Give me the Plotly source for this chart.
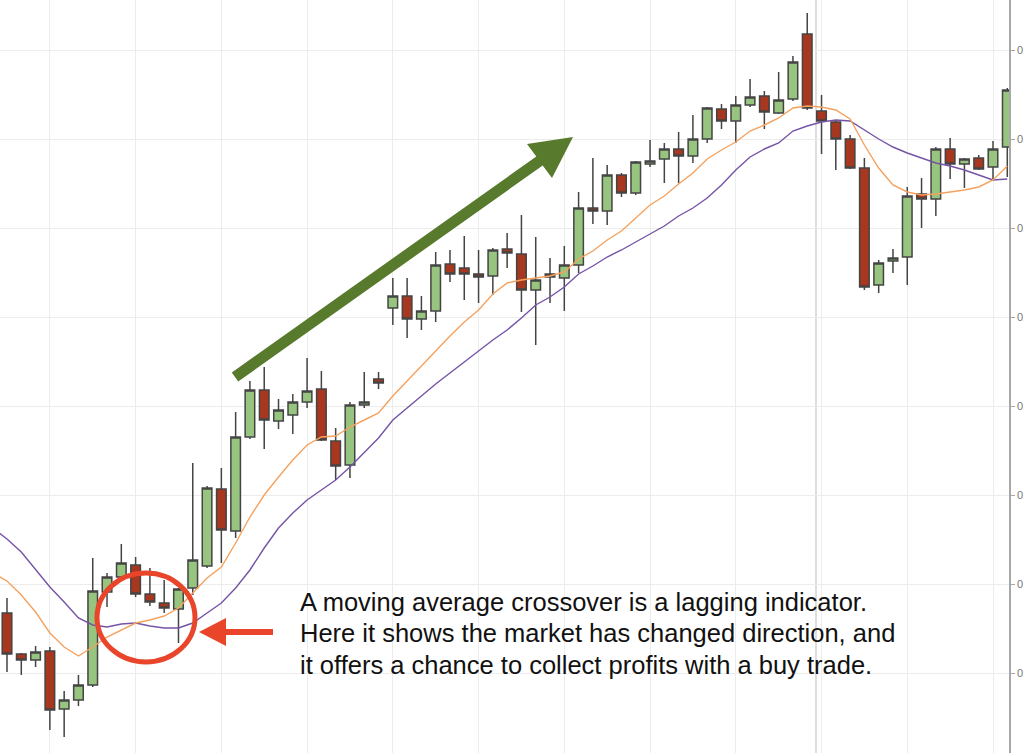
import plotly.graph_objects as go

# candle index (one per session)
idx = list(range(71))

opens = [
    0.7387, 0.7346, 0.7340, 0.7349, 0.7291, 0.7300, 0.7315, 0.7408, 0.7423, 0.7435,
    0.7406, 0.7397, 0.7391, 0.7412, 0.7434, 0.7511, 0.7469, 0.7563, 0.7610, 0.7579,
    0.7585, 0.7598, 0.7611, 0.7559, 0.7535, 0.7595, 0.7621, 0.7692, 0.7704, 0.7681,
    0.7689, 0.7736, 0.7732, 0.7726, 0.7724, 0.7751, 0.7746, 0.7710, 0.7726, 0.7722,
    0.7735, 0.7792, 0.7789, 0.7825, 0.7807, 0.7836, 0.7841, 0.7851, 0.7844, 0.7861,
    0.7891, 0.7879, 0.7895, 0.7904, 0.7887, 0.7901, 0.7966, 0.7889, 0.7878, 0.7861,
    0.7832, 0.7715, 0.7739, 0.7743, 0.7806, 0.7801, 0.7851, 0.7836, 0.7842, 0.7833,
    0.7853,
]
highs = [
    0.7402, 0.7347, 0.7354, 0.7353, 0.7309, 0.7325, 0.7442, 0.7427, 0.7456, 0.7443,
    0.7432, 0.7420, 0.7412, 0.7537, 0.7514, 0.7532, 0.7588, 0.7619, 0.7633, 0.7601,
    0.7606, 0.7642, 0.7629, 0.7572, 0.7598, 0.7628, 0.7628, 0.7722, 0.7722, 0.7704,
    0.7748, 0.7750, 0.7764, 0.7750, 0.7752, 0.7767, 0.7785, 0.7763, 0.7742, 0.7754,
    0.7808, 0.7842, 0.7835, 0.7827, 0.7839, 0.7860, 0.7857, 0.7868, 0.7885, 0.7893,
    0.7896, 0.7904, 0.7921, 0.7909, 0.7928, 0.7944, 0.7987, 0.7905, 0.7879, 0.7865,
    0.7842, 0.7740, 0.7751, 0.7813, 0.7822, 0.7853, 0.7862, 0.7842, 0.7845, 0.7859,
    0.7912,
]
lows = [
    0.7328, 0.7325, 0.7333, 0.7270, 0.7263, 0.7294, 0.7313, 0.7393, 0.7420, 0.7403,
    0.7394, 0.7387, 0.7357, 0.7405, 0.7432, 0.7437, 0.7462, 0.7561, 0.7551, 0.7571,
    0.7566, 0.7592, 0.7559, 0.7520, 0.7522, 0.7592, 0.7611, 0.7675, 0.7662, 0.7670,
    0.7678, 0.7718, 0.7700, 0.7697, 0.7705, 0.7732, 0.7688, 0.7655, 0.7697, 0.7689,
    0.7727, 0.7776, 0.7775, 0.7803, 0.7805, 0.7833, 0.7817, 0.7817, 0.7837, 0.7857,
    0.7871, 0.7857, 0.7893, 0.7871, 0.7886, 0.7899, 0.7890, 0.7846, 0.7830, 0.7831,
    0.7710, 0.7707, 0.7727, 0.7715, 0.7772, 0.7784, 0.7821, 0.7812, 0.7830, 0.7821,
    0.7823,
]
closes = [
    0.7346, 0.7340, 0.7348, 0.7290, 0.7300, 0.7315, 0.7409, 0.7423, 0.7437, 0.7406,
    0.7398, 0.7392, 0.7411, 0.7440, 0.7512, 0.7470, 0.7563, 0.7610, 0.7580, 0.7590,
    0.7598, 0.7609, 0.7560, 0.7534, 0.7595, 0.7598, 0.7617, 0.7704, 0.7681, 0.7689,
    0.7735, 0.7726, 0.7726, 0.7723, 0.7750, 0.7747, 0.7710, 0.7720, 0.7723, 0.7735,
    0.7792, 0.7789, 0.7825, 0.7807, 0.7838, 0.7839, 0.7851, 0.7844, 0.7861, 0.7892,
    0.7879, 0.7895, 0.7903, 0.7888, 0.7900, 0.7938, 0.7892, 0.7879, 0.7861, 0.7832,
    0.7713, 0.7737, 0.7742, 0.7804, 0.7801, 0.7851, 0.7836, 0.7841, 0.7831, 0.7851,
    0.7910,
]

# moving averages start one session before the first visible candle
ma_idx = list(range(-1, 71))
ma_fast = [
    0.7427, 0.7419, 0.7405, 0.7388, 0.7367, 0.7353, 0.7344, 0.7353, 0.7363, 0.7370,
    0.7377, 0.7380, 0.7384, 0.7392, 0.7407, 0.7422, 0.7433, 0.7457, 0.7483, 0.7505,
    0.7523, 0.7540, 0.7555, 0.7563, 0.7564, 0.7573, 0.7580, 0.7587, 0.7604, 0.7619,
    0.7634, 0.7650, 0.7664, 0.7678, 0.7690, 0.7706, 0.7717, 0.7720, 0.7722, 0.7724,
    0.7728, 0.7741, 0.7749, 0.7760, 0.7769, 0.7782, 0.7795, 0.7804, 0.7816, 0.7827,
    0.7841, 0.7850, 0.7858, 0.7869, 0.7875, 0.7882, 0.7892, 0.7894, 0.7893, 0.7890,
    0.7881, 0.7855, 0.7832, 0.7815, 0.7808, 0.7805, 0.7806, 0.7808, 0.7810, 0.7813,
    0.7820, 0.7834,
]
ma_slow = [
    0.7472, 0.7461, 0.7448, 0.7431, 0.7413, 0.7398, 0.7382, 0.7375, 0.7373, 0.7376,
    0.7377, 0.7374, 0.7372, 0.7372, 0.7377, 0.7387, 0.7397, 0.7412, 0.7430, 0.7452,
    0.7472, 0.7487, 0.7500, 0.7510, 0.7520, 0.7533, 0.7548, 0.7562, 0.7580, 0.7592,
    0.7604, 0.7616, 0.7627, 0.7638, 0.7649, 0.7660, 0.7670, 0.7682, 0.7695, 0.7703,
    0.7713, 0.7726, 0.7734, 0.7743, 0.7750, 0.7758, 0.7766, 0.7774, 0.7784, 0.7792,
    0.7802, 0.7815, 0.7830, 0.7843, 0.7851, 0.7857, 0.7869, 0.7874, 0.7878, 0.7880,
    0.7879, 0.7870, 0.7861, 0.7853, 0.7847, 0.7842, 0.7837, 0.7834, 0.7830, 0.7825,
    0.7820, 0.7821,
]

note_lines = [
    "A moving average crossover is a lagging indicator.",
    "Here it shows the market has changed direction, and",
    "it offers a chance to collect profits with a buy trade.",
]

W, H = 1024, 753
M_R = 15
PLOT_W = W - M_R
PLOT_H = H


def paper(px, py):
    # pixel position in the picture -> paper coordinates
    return px / PLOT_W, 1 - py / PLOT_H


def poly(points):
    pts = [paper(x, y) for x, y in points]
    return "M " + " L ".join(f"{x:.5f},{y:.5f}" for x, y in pts) + " Z"


fig = go.Figure()

fig.add_trace(
    go.Scatter(
        x=ma_idx, y=ma_slow, mode="lines",
        line=dict(color="#7553a6", width=1.4), hoverinfo="skip",
    )
)
fig.add_trace(
    go.Scatter(
        x=ma_idx, y=ma_fast, mode="lines",
        line=dict(color="#f5a25f", width=1.4), hoverinfo="skip",
    )
)
fig.add_trace(
    go.Candlestick(
        x=idx, open=opens, high=highs, low=lows, close=closes,
        increasing=dict(fillcolor="#97c47f", line=dict(color="#444444", width=1.5)),
        decreasing=dict(fillcolor="#a8371f", line=dict(color="#444444", width=1.5)),
        hoverinfo="skip",
    )
)

shapes = []
# crosshair line
cx, _ = paper(816, 0)
shapes.append(dict(type="line", xref="paper", yref="paper", x0=cx, x1=cx, y0=0, y1=1,
                   line=dict(color="#c8c8c8", width=1.2), layer="below"))
# red circle around the crossover
x0, y0 = paper(97, 662)
x1, y1 = paper(195, 573)
shapes.append(dict(type="circle", xref="paper", yref="paper", x0=x0, y0=y0, x1=x1, y1=y1,
                   line=dict(color="#e8452b", width=5)))
# red arrow pointing at the circle
shapes.append(dict(type="path", xref="paper", yref="paper", fillcolor="#e8452b",
                   line=dict(width=0),
                   path=poly([(273, 629), (226, 629), (226, 618), (199, 632),
                              (226, 646), (226, 635), (273, 635)])))
# green trend arrow
shapes.append(dict(type="path", xref="paper", yref="paper", fillcolor="#587a2d",
                   line=dict(width=0),
                   path=poly([(231.8, 372.5), (536.3, 156.5), (527, 144), (573, 137),
                              (552, 178), (542.7, 165.5), (238.2, 381.5)])))

annotations = []
for text, yc in zip(note_lines, [601.5, 633, 664.5]):
    ax, ay = paper(298, yc)
    annotations.append(dict(
        text=text, xref="paper", yref="paper", x=ax, y=ay,
        xanchor="left", yanchor="middle", showarrow=False,
        font=dict(family="Liberation Sans, Arial, sans-serif", size=25.5, color="#111111"),
    ))

fig.update_layout(
    width=W,
    height=H,
    margin=dict(l=0, r=M_R, t=0, b=0),
    paper_bgcolor="white",
    plot_bgcolor="white",
    showlegend=False,
    hovermode=False,
    boxgap=0.33,
    boxgroupgap=0,
    shapes=shapes,
    annotations=annotations,
    xaxis=dict(
        range=[-0.49, 70.12],
        rangeslider=dict(visible=False),
        showticklabels=False,
        ticks="",
        tick0=3,
        dtick=6,
        showgrid=True,
        gridcolor="#ececec",
        gridwidth=1,
        zeroline=False,
        showline=False,
    ),
    yaxis=dict(
        side="right",
        range=[0.7247, 0.8000],
        tick0=0.7327,
        dtick=0.0089,
        tickformat=".4f",
        showgrid=True,
        gridcolor="#ececec",
        gridwidth=1,
        zeroline=False,
        showline=True,
        linecolor="#a8a8a8",
        linewidth=1.5,
        ticks="outside",
        ticklen=4,
        tickcolor="#a8a8a8",
        tickfont=dict(family="Liberation Sans, Arial, sans-serif", size=11, color="#777777"),
        automargin=False,
    ),
)

# the page gets no body margin so the chart fills the window exactly
fig.write_html(
    "out.html",
    config={"displayModeBar": False},
    post_script="document.body.style.margin = '0';",
)
